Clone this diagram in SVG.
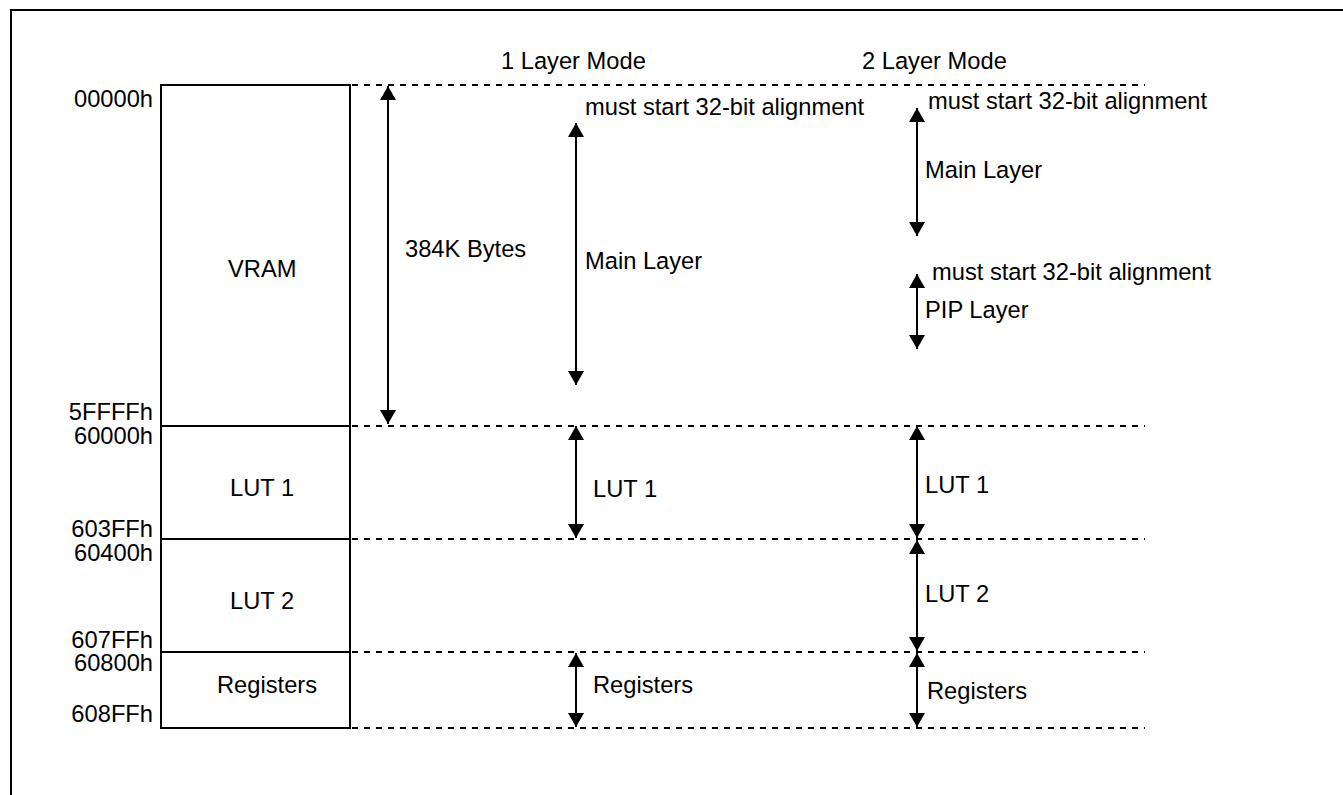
<svg xmlns="http://www.w3.org/2000/svg" width="1343" height="795" viewBox="0 0 1343 795">
<style>
text{font-family:"Liberation Sans",Arial,sans-serif;font-size:23.7px;fill:#000}
.addr{text-anchor:end}
.box{fill:#fff;stroke:#000;stroke-width:2}
.dash{stroke:#000;stroke-width:2;stroke-dasharray:6 6;fill:none}
.arr{stroke:#000;stroke-width:2;fill:none;marker-start:url(#ah);marker-end:url(#ah)}
</style>
<defs>
<marker id="ah" viewBox="0 0 14 16" refX="14" refY="8" markerWidth="14" markerHeight="16" markerUnits="userSpaceOnUse" orient="auto-start-reverse">
<path d="M0,0 L14,8 L0,16 z" fill="#000"/>
</marker>
</defs>
<rect width="1343" height="795" fill="#fff"/>
<path d="M11,795 V10 H1343" fill="none" stroke="#000" stroke-width="2"/>

<g id="headers">
<text x="501" y="69">1 Layer Mode</text>
<text x="862" y="69">2 Layer Mode</text>
</g>

<g id="addresses">
<text class="addr" x="153" y="107">00000h</text>
<text class="addr" x="153" y="420">5FFFFh</text>
<text class="addr" x="153" y="444">60000h</text>
<text class="addr" x="153" y="537">603FFh</text>
<text class="addr" x="153" y="561">60400h</text>
<text class="addr" x="153" y="648">607FFh</text>
<text class="addr" x="153" y="671">60800h</text>
<text class="addr" x="153" y="722">608FFh</text>
</g>

<g id="vram">
<rect class="box" x="161" y="85" width="189" height="341"/>
<text x="228" y="277">VRAM</text>
</g>
<g id="lut1">
<rect class="box" x="161" y="426" width="189" height="113"/>
<text x="230" y="496">LUT 1</text>
</g>
<g id="lut2">
<rect class="box" x="161" y="539" width="189" height="113"/>
<text x="230" y="609">LUT 2</text>
</g>
<g id="registers">
<rect class="box" x="161" y="652" width="189" height="76"/>
<text x="217" y="693">Registers</text>
</g>

<g id="connectors">
<line class="dash" x1="352" y1="85" x2="1145" y2="85"/>
<line class="dash" x1="352" y1="426" x2="1145" y2="426"/>
<line class="dash" x1="352" y1="539" x2="1145" y2="539"/>
<line class="dash" x1="352" y1="652" x2="1145" y2="652"/>
<line class="dash" x1="352" y1="728" x2="1145" y2="728"/>

<line class="arr" x1="388" y1="86" x2="388" y2="424"/>
<line class="arr" x1="576" y1="123" x2="576" y2="385"/>
<line class="arr" x1="576" y1="426" x2="576" y2="538"/>
<line class="arr" x1="576" y1="653" x2="576" y2="727"/>
<line class="arr" x1="917" y1="108" x2="917" y2="236"/>
<line class="arr" x1="917" y1="274" x2="917" y2="349"/>
<line class="arr" x1="917" y1="426" x2="917" y2="538"/>
<line class="arr" x1="917" y1="540" x2="917" y2="651"/>
<line class="arr" x1="917" y1="653" x2="917" y2="727"/>
</g>

<g id="labels">
<text x="405" y="257">384K Bytes</text>
<text x="585" y="115">must start 32-bit alignment</text>
<text x="585" y="269">Main Layer</text>
<text x="593" y="497">LUT 1</text>
<text x="593" y="693">Registers</text>
<text x="928" y="109">must start 32-bit alignment</text>
<text x="925" y="178">Main Layer</text>
<text x="932" y="280">must start 32-bit alignment</text>
<text x="925" y="318">PIP Layer</text>
<text x="925" y="493">LUT 1</text>
<text x="925" y="602">LUT 2</text>
<text x="927" y="699">Registers</text>
</g>
</svg>
